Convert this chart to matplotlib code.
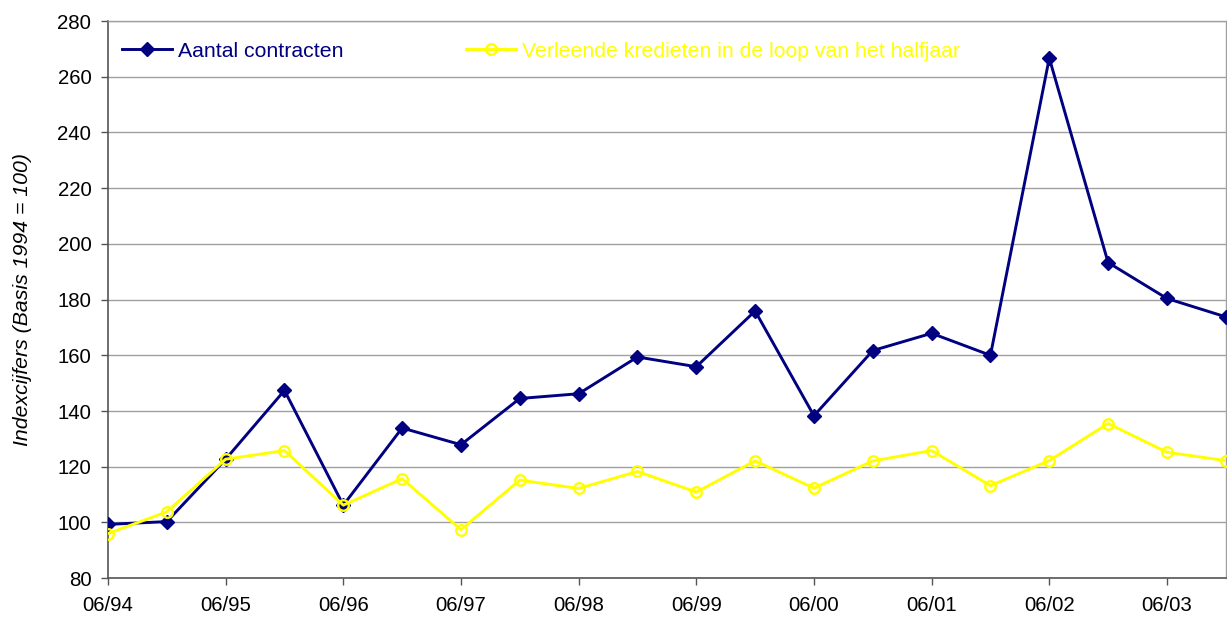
import matplotlib.pyplot as plt
from matplotlib.lines import Line2D

# Half-yearly periods, June 1994 through December 2003
periods = ["06/94", "12/94", "06/95", "12/95", "06/96", "12/96", "06/97", "12/97",
           "06/98", "12/98", "06/99", "12/99", "06/00", "12/00", "06/01", "12/01",
           "06/02", "12/02", "06/03", "12/03"]

aantal_contracten = [99.3, 100.3, 122.7, 147.4, 106.2, 133.9, 127.9, 144.5,
                     146.2, 159.4, 155.9, 175.9, 138.3, 161.7, 167.9, 160.0,
                     266.7, 193.3, 180.4, 173.8]

verleende_kredieten = [96.0, 103.8, 122.7, 125.8, 106.2, 115.7, 97.4, 115.2,
                       112.2, 118.3, 110.9, 122.1, 112.3, 122.1, 125.8, 113.2,
                       122.2, 135.5, 125.2, 122.2]

y_ticks = list(range(80, 281, 20))

NAVY = "#000080"
YELLOW = "#FFFF00"

plt.rcParams["font.family"] = ["Liberation Sans", "DejaVu Sans"]

fig = plt.figure(figsize=(12.27, 6.19), dpi=100)
ax = fig.add_axes([0.088, 0.066, 0.911, 0.900])

x = list(range(len(periods)))

navy_style = dict(color=NAVY, linewidth=2.1, marker="D", markersize=7,
                  markerfacecolor=NAVY, markeredgecolor=NAVY)
yellow_style = dict(color=YELLOW, linewidth=2.1, marker="o", markersize=7.6,
                    markerfacecolor="none", markeredgecolor=YELLOW,
                    markeredgewidth=1.7)

ax.plot(x, aantal_contracten, zorder=3, **navy_style)
ax.plot(x, verleende_kredieten, zorder=4, **yellow_style)

ax.set_xlim(0, len(periods) - 1)
ax.set_ylim(80, 280)
ax.set_yticks(y_ticks)
ax.set_xticks(x[::2])
ax.set_xticklabels(periods[::2])

ax.yaxis.grid(True, color="#a0a0a0", linewidth=1.0)
ax.set_axisbelow(True)

for side in ["left", "bottom"]:
    ax.spines[side].set_color("#555555")
    ax.spines[side].set_linewidth(1.2)
for side in ["top", "right"]:
    ax.spines[side].set_color("#a0a0a0")
    ax.spines[side].set_linewidth(1.0)

ax.tick_params(axis="both", direction="out", length=5, width=1,
               color="#555555", labelsize=14.7, labelcolor="black")
ax.tick_params(axis="y", pad=7)
ax.tick_params(axis="x", pad=8)

ax.set_ylabel("Indexcijfers (Basis 1994 = 100)", fontsize=15.3,
              style="italic", labelpad=18)

handles = [Line2D([], [], **navy_style), Line2D([], [], **yellow_style)]
labels = ["Aantal contracten", "Verleende kredieten in de loop van het halfjaar"]

ax.legend(handles, labels, loc="upper left", bbox_to_anchor=(0.0125, 0.963),
          ncol=2, frameon=False, fontsize=15.3, handlelength=2.35,
          handletextpad=0.3, columnspacing=5.75, borderpad=0,
          borderaxespad=0, labelcolor=[NAVY, YELLOW])

fig.savefig("out.png", dpi=100)
